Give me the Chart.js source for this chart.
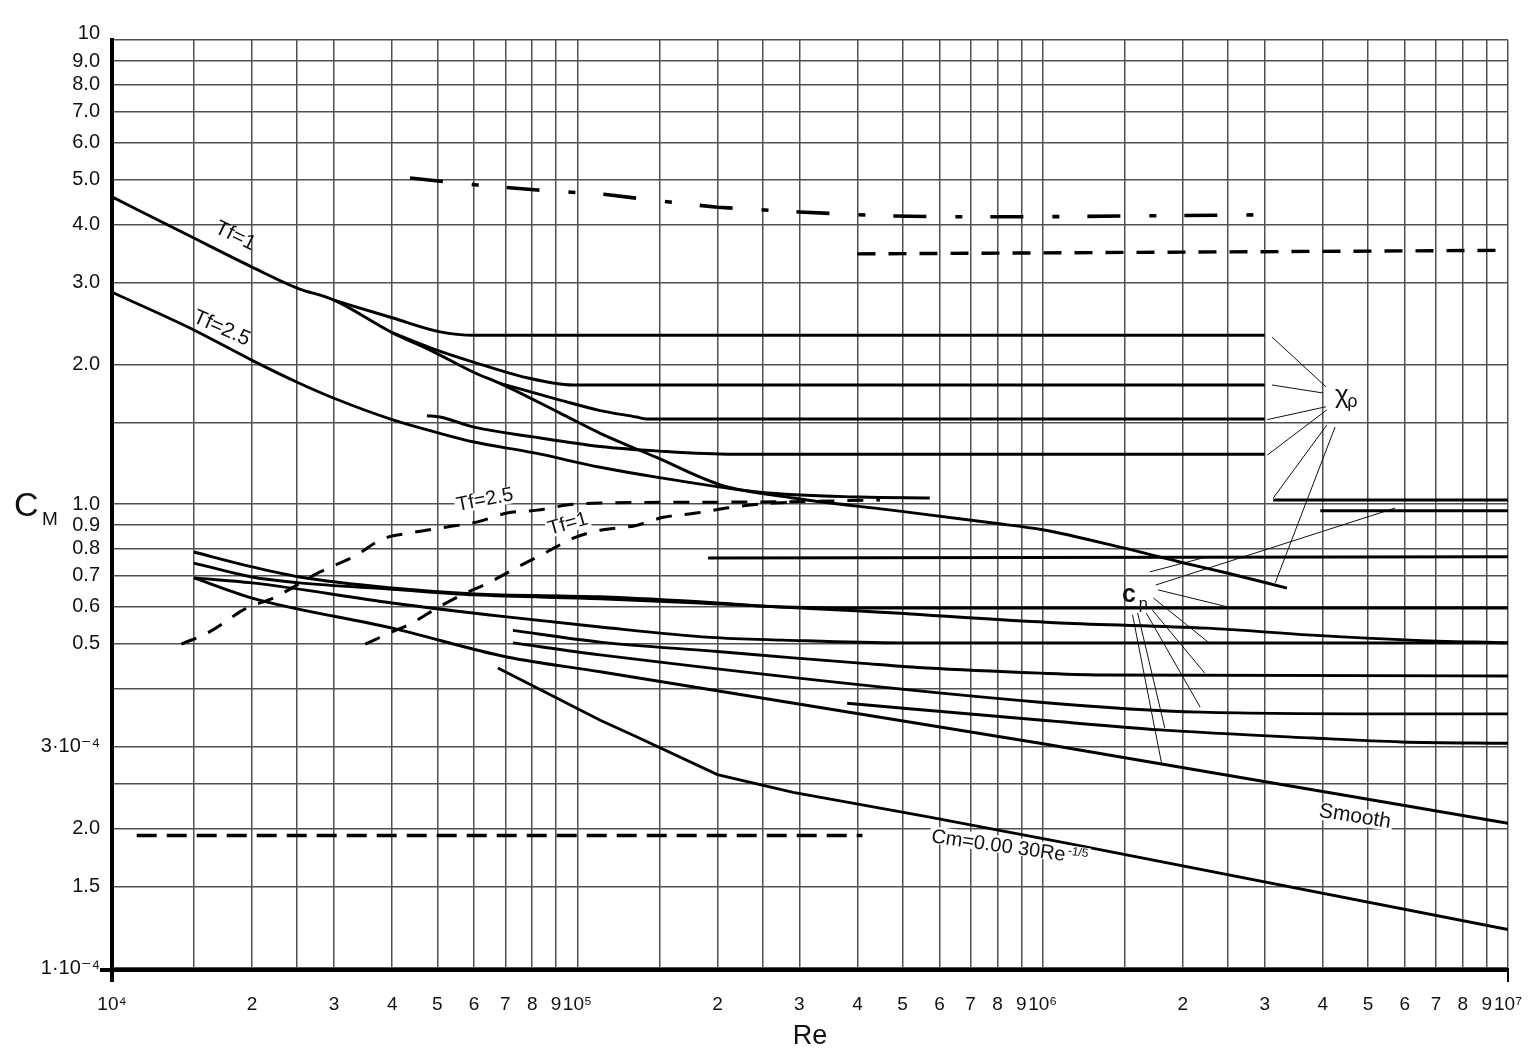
<!DOCTYPE html>
<html>
<head>
<meta charset="utf-8">
<script src="https://cdn.jsdelivr.net/npm/chart.js@4.4.1/dist/chart.umd.min.js"></script>
<style>
html,body{margin:0;padding:0;background:#fff;}
canvas{display:block;}
</style>
</head>
<body>
<canvas id="chart" width="1529" height="1054"></canvas>
<script>
// ---------------- axis ticks ----------------
const xTickValues = [1e4,1.5e4,2e4,2.5e4,3e4,4e4,5e4,6e4,7e4,8e4,9e4,
                     1e5,1.5e5,2e5,2.5e5,3e5,4e5,5e5,6e5,7e5,8e5,9e5,
                     1e6,1.5e6,2e6,2.5e6,3e6,4e6,5e6,6e6,7e6,8e6,9e6,1e7];
const xTickLabels = ['10⁴','','2','','3','4','5','6','7','8','9',
                     '10⁵','','2','','3','4','5','6','7','8','9',
                     '10⁶','','2','','3','4','5','6','7','8','9','10⁷'];
// y in units of 1e-4 (lower decade 1..10 = 1e-4..1e-3, upper decade labelled 1.0..10)
const yTickValues = [1,1.5,2,2.5,3,4,5,6,7,8,9,10,15,20,30,40,50,60,70,80,90,100];
const yTickLabels = ['1·10⁻⁴','1.5','2.0','','3·10⁻⁴','','0.5','0.6','0.7','0.8','0.9',
                     '1.0','','2.0','3.0','4.0','5.0','6.0','7.0','8.0','9.0',['10','']];

// ---------------- series [Re, C] ----------------
const dashDotTop   = [[4.37e4,50.4],[6.1e4,48.7],[8.2e4,47.5],[1.14e5,46.5],[1.5e5,45.0],[2.0e5,43.6],[3.0e5,42.6],[4.5e5,41.8],[6.0e5,41.6],[1.0e6,41.6],[2.95e6,42.0]];
const dashedUpper  = [[4.0e5,34.6],[9.4e6,35.2]];
const dashedLower  = [[1.13e4,1.93],[4.1e5,1.93]];

const tf1Curve     = [[1e4,45.9],[1.47e4,37.8],[2e4,32.4],[2.5e4,29.2],[3e4,27.5],[4e4,23.4],[4.9e4,21.3],[6e4,19.2],[6.82e4,18.2],[9.18e4,15.7],[1.12e5,14.2],[1.48e5,12.6],[2.03e5,11.0],[2.91e5,10.3],[4.73e5,9.7],[7.82e5,9.1],[1.0e6,8.8],[1.49e6,8.04],[1.97e6,7.5],[2.49e6,7.1],[3.35e6,6.59]];
const tf25Curve    = [[1e4,28.6],[1.47e4,23.95],[2e4,20.4],[2.5e4,18.3],[3e4,16.9],[4e4,15.2],[5.07e4,14.2],[6e4,13.6],[8.03e4,12.9],[1.12e5,12.0],[1.5e5,11.4],[2.47e5,10.6],[4.05e5,10.35],[5.72e5,10.3]];
const chiP1        = [[3e4,27.5],[4e4,25.2],[5.07e4,23.5],[6e4,23.1],[3.0e6,23.1]];
const chiP2        = [[4e4,23.4],[4.9e4,21.6],[6e4,20.2],[7.64e4,18.8],[9.79e4,18.05],[3.0e6,18.05]];
const chiP3        = [[6.82e4,18.2],[9.18e4,16.75],[1.12e5,15.9],[1.34e5,15.4],[1.41e5,15.25],[3.0e6,15.25]];
const chiP4        = [[4.75e4,15.5],[5.07e4,15.4],[6e4,14.65],[8.03e4,13.95],[1.12e5,13.3],[1.5e5,13.0],[2.16e5,12.8],[3.0e6,12.8]];
const chiP5        = [[3.13e6,10.2],[1e7,10.2]];
const chiP6        = [[3.95e6,9.67],[1e7,9.67]];
const line078      = [[1.91e5,7.65],[1e7,7.7]];

const cp1          = [[1.5e4,7.88],[2e4,7.32],[2.53e4,6.96],[4e4,6.59],[6e4,6.4],[1.12e5,6.31],[2e5,6.12],[2.47e5,6.03],[4.05e5,5.97],[1e7,5.97]];
const cp2          = [[1.5e4,7.46],[2e4,6.96],[2.53e4,6.76],[4e4,6.55],[6e4,6.37],[1.12e5,6.25],[2e5,6.09],[4.05e5,5.88],[1.09e6,5.54],[2.25e6,5.4],[3.87e6,5.21],[6.16e6,5.09],[1e7,5.02]];
const cp3          = [[1.5e4,6.93],[2e4,6.76],[4e4,6.12],[7.06e4,5.71],[1.12e5,5.43],[1.93e5,5.16],[2.77e5,5.09],[4.94e5,5.02],[1e7,5.02]];
const cp4          = [[7.27e4,5.34],[1.12e5,5.04],[2e5,4.81],[2.91e5,4.66],[4.05e5,4.54],[5.64e5,4.43],[9.87e5,4.32],[1.37e6,4.28],[1e7,4.26]];
const cp5          = [[7.27e4,5.02],[1.12e5,4.73],[9.87e5,3.74],[2.18e6,3.56],[6e6,3.53],[1e7,3.53]];
const cp6          = [[3.8e5,3.72],[1.0e6,3.42],[1.79e6,3.26],[3.81e6,3.13],[5.9e6,3.07],[1e7,3.05]];
const smoothLine   = [[1.5e4,6.93],[2e4,6.27],[4e4,5.4],[7.06e4,4.68],[1.12e5,4.35],[9.87e5,3.05],[1e7,2.05]];
const cmLine       = [[6.75e4,4.43],[1.12e5,3.42],[1.34e5,3.15],[2e5,2.61],[2.91e5,2.39],[5.64e5,2.12],[1.09e6,1.87],[1e7,1.21]];

const tf25Dashed   = [[1.41e4,4.99],[1.62e4,5.3],[1.95e4,5.97],[2.22e4,6.27],[2.8e4,7.14],[3.3e4,7.69],[3.82e4,8.41],[4.37e4,8.66],[5.25e4,8.92],[6.1e4,9.15],[7.06e4,9.56],[8.2e4,9.7],[9.5e4,9.95],[1.12e5,10.05],[2.47e5,10.1],[4.47e5,10.2]];
const tf1Dashed    = [[3.5e4,4.99],[4e4,5.3],[4.37e4,5.51],[5e4,5.97],[5.65e4,6.37],[6.5e4,6.79],[7.46e4,7.32],[8.6e4,7.88],[9.8e4,8.44],[1.12e5,8.78],[1.33e5,8.98],[1.53e5,9.36],[1.8e5,9.56],[2.09e5,9.8],[2.47e5,10.0],[3.0e5,10.1]];

// leader lines from the labels to the curves
const chiLeaders = [
  [[4.06e6,17.9],[3.11e6,22.9]],
  [[4.0e6,17.35],[3.11e6,18.05]],
  [[4.06e6,16.2],[3.04e6,15.2]],
  [[4.08e6,15.95],[3.04e6,12.75]],
  [[4.08e6,14.8],[3.13e6,10.3]],
  [[4.25e6,14.65],[3.16e6,6.76]]
];
const cpLeaders = [
  [[1.7e6,7.14],[2.25e6,7.69]],
  [[1.75e6,6.69],[5.72e6,9.8]],
  [[1.77e6,6.53],[2.5e6,6.0]],
  [[1.73e6,6.27],[2.29e6,5.0]],
  [[1.72e6,5.91],[2.23e6,4.32]],
  [[1.67e6,5.82],[2.18e6,3.65]],
  [[1.6e6,5.82],[1.83e6,3.29]],
  [[1.56e6,5.77],[1.8e6,2.77]]
];

// text annotations (anchors in data coordinates)
const textNotes = [
  {text:'Tf=1',   x:1.84e4, y:37.8, rot:26,  size:21},
  {text:'Tf=2.5', x:1.72e4, y:23.9, rot:24,  size:21},
  {text:'Tf=2.5', x:6.33e4, y:10.2, rot:-11, size:20, bg:true},
  {text:'Tf=1',   x:9.55e4, y:9.05, rot:-16, size:20, bg:true},
  {text:'Smooth', x:4.69e6, y:2.12, rot:9,   size:21, bg:true}
];

// ---------------- build datasets ----------------
const FONT = "'Liberation Sans', Arial, 'DejaVu Sans', sans-serif";
const toXY = arr => arr.map(([x,y]) => ({x, y}));
function ds(arr, style) {
  return Object.assign({
    data: toXY(arr), showLine: true, borderColor: '#000', borderWidth: 2.9,
    pointRadius: 0, pointHoverRadius: 0, fill: false, tension: 0
  }, style || {});
}
const curved = {cubicInterpolationMode: 'monotone'};
const datasets = [
  ds(dashDotTop, {borderWidth: 3.6, borderDash: [33, 29, 7, 28]}),
  ds(dashedUpper, {borderWidth: 3.4, borderDash: [18, 13]}),
  ds(dashedLower, {borderWidth: 3.4, borderDash: [20, 10]}),
  ds(tf1Curve, curved), ds(tf25Curve, curved),
  ds(chiP1, curved), ds(chiP2, curved), ds(chiP3, curved), ds(chiP4, curved),
  ds(chiP5, {borderWidth: 3.2}), ds(chiP6, {borderWidth: 3.2}), ds(line078, {borderWidth: 3}),
  ds(cp1, curved), ds(cp2, curved), ds(cp3, curved), ds(cp4, curved), ds(cp5, curved), ds(cp6, curved),
  ds(smoothLine, curved), ds(cmLine),
  ds(tf25Dashed, Object.assign({borderWidth: 3, borderDash: [16, 13]}, curved)),
  ds(tf1Dashed, Object.assign({borderWidth: 3, borderDash: [16, 13]}, curved))
];
chiLeaders.concat(cpLeaders).forEach(seg => datasets.push(ds(seg, {borderWidth: 1, borderColor: '#111'})));

// ---------------- extra drawing: axes, titles, notes ----------------
function drawNote(ctx, x, y, n) {
  ctx.save();
  ctx.translate(x, y);
  ctx.rotate(n.rot * Math.PI / 180);
  ctx.font = n.size + 'px ' + FONT;
  ctx.textAlign = 'center';
  ctx.textBaseline = 'middle';
  if (n.bg) {
    const w = ctx.measureText(n.text).width;
    ctx.fillStyle = '#fff';
    ctx.fillRect(-w / 2 - 2, -n.size * 0.42, w + 4, n.size * 0.84);
  }
  ctx.fillStyle = '#111';
  ctx.fillText(n.text, 0, 0);
  ctx.restore();
}

const extras = {
  id: 'extras',
  afterDatasetsDraw(chart) {
    const {ctx, chartArea: a, scales} = chart;
    const X = v => scales.x.getPixelForValue(v);
    const Y = v => scales.y.getPixelForValue(v);
    ctx.save();
    // heavy axes
    ctx.strokeStyle = '#000';
    ctx.lineWidth = 4;
    ctx.lineCap = 'butt';
    ctx.beginPath();
    ctx.moveTo(a.left, a.top - 2); ctx.lineTo(a.left, a.bottom + 14);
    ctx.moveTo(a.left - 12, a.bottom + 2); ctx.lineTo(a.right + 1, a.bottom + 2);
    ctx.stroke();
    ctx.lineWidth = 2;
    ctx.beginPath();
    ctx.moveTo(a.right, a.bottom); ctx.lineTo(a.right, a.bottom + 14);
    ctx.stroke();

    // y-axis title C_M
    ctx.fillStyle = '#111';
    ctx.textBaseline = 'alphabetic';
    ctx.textAlign = 'left';
    ctx.font = '34px ' + FONT;
    ctx.fillText('C', 14, 516);
    ctx.font = '19px ' + FONT;
    ctx.fillText('M', 42, 525);

    // notes
    textNotes.forEach(n => drawNote(ctx, X(n.x), Y(n.y), n));

    // chi_rho label
    ctx.textAlign = 'left';
    ctx.textBaseline = 'alphabetic';
    ctx.fillStyle = '#111';
    let lx = X(4.25e6), ly = Y(16.5);
    ctx.font = '26px ' + FONT;
    ctx.fillText('χ', lx, ly);
    ctx.font = '18px ' + FONT;
    ctx.fillText('ρ', lx + ctx.measureText('χ').width * 1.3, ly + 4);

    // c_p label
    lx = X(1.48e6); ly = Y(6.15);
    ctx.font = 'bold 25px ' + FONT;
    ctx.fillText('c', lx, ly);
    const cw = ctx.measureText('c').width;
    ctx.font = '16px ' + FONT;
    ctx.fillText('p', lx + cw + 3, ly + 7);

    // Cm formula label
    ctx.save();
    ctx.translate(X(8.5e5), Y(1.83));
    ctx.rotate(8 * Math.PI / 180);
    ctx.font = '20px ' + FONT;
    const main = 'Cm=0.00 30Re';
    const mw = ctx.measureText(main).width;
    ctx.font = '12px ' + FONT;
    const sup = '-1/5';
    const sw = ctx.measureText(sup).width;
    const tw = mw + sw + 2;
    ctx.fillStyle = '#fff';
    ctx.fillRect(-tw / 2 - 2, -9, tw + 4, 17);
    ctx.fillStyle = '#111';
    ctx.textBaseline = 'alphabetic';
    ctx.font = '20px ' + FONT;
    ctx.fillText(main, -tw / 2, 7);
    ctx.font = '12px ' + FONT;
    ctx.fillText(sup, -tw / 2 + mw + 2, 0);
    ctx.restore();

    ctx.restore();
  }
};

new Chart(document.getElementById('chart').getContext('2d'), {
  type: 'scatter',
  data: {datasets},
  options: {
    responsive: false,
    animation: false,
    devicePixelRatio: 1,
    events: [],
    layout: {padding: {top: 40, right: 21, left: 0, bottom: 0}},
    plugins: {legend: {display: false}, tooltip: {enabled: false}},
    scales: {
      x: {
        type: 'logarithmic', min: 1e4, max: 1e7, position: 'bottom',
        afterBuildTicks: s => { s.ticks = xTickValues.map(v => ({value: v})); },
        afterFit: s => { s.height = 86; s.paddingLeft = 0; s.paddingRight = 0; },
        grid: {color: '#505050', lineWidth: 1.5, drawTicks: false},
        border: {display: false},
        ticks: {
          autoSkip: false, maxRotation: 0, minRotation: 0, padding: 25,
          color: '#111', font: {family: FONT, size: 19},
          callback: (v, i) => xTickLabels[i]
        },
        title: {display: true, text: 'Re', color: '#111', font: {family: FONT, size: 27}, padding: {top: 0, bottom: 1}}
      },
      y: {
        type: 'logarithmic', min: 1, max: 100, position: 'left',
        afterBuildTicks: s => { s.ticks = yTickValues.map(v => ({value: v})); },
        afterFit: s => { s.width = 112; s.paddingTop = 0; s.paddingBottom = 0; },
        grid: {color: '#505050', lineWidth: 1.5, drawTicks: false},
        border: {display: false},
        ticks: {
          autoSkip: false, padding: 12, color: '#111',
          font: {family: FONT, size: 20, lineHeight: 0.7},
          callback: (v, i) => yTickLabels[i]
        }
      }
    }
  },
  plugins: [extras]
});
</script>
</body>
</html>
